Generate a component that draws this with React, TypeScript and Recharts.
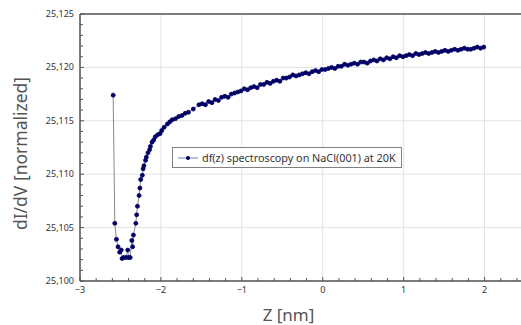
import { CartesianGrid, Line, LineChart, ReferenceLine, XAxis, YAxis } from "recharts";

// distance z [nm] and normalized dI/dV
const zNm = [
  -2.59, -2.57, -2.55, -2.53, -2.51, -2.49, -2.48, -2.46, -2.43, -2.41, -2.4, -2.38, -2.36, -2.35, -2.34,
  -2.31, -2.3, -2.29, -2.27, -2.26, -2.25, -2.23, -2.22, -2.21, -2.19, -2.18, -2.16, -2.14, -2.13, -2.11,
  -2.09, -2.07, -2.04, -2.01, -1.99, -1.96, -1.92, -1.89, -1.86, -1.82, -1.78, -1.74, -1.7, -1.66, -1.6,
  -1.53, -1.49, -1.45, -1.41, -1.37, -1.33, -1.29, -1.25, -1.21, -1.17, -1.13, -1.09, -1.05, -1.01, -0.97,
  -0.93, -0.89, -0.85, -0.81, -0.77, -0.73, -0.69, -0.65, -0.61, -0.57, -0.53, -0.49, -0.45, -0.41, -0.37,
  -0.33, -0.29, -0.25, -0.21, -0.17, -0.13, -0.09, -0.05, -0.01, 0.03, 0.07, 0.11, 0.15, 0.19, 0.23, 0.27,
  0.31, 0.35, 0.39, 0.43, 0.47, 0.51, 0.55, 0.59, 0.63, 0.67, 0.71, 0.75, 0.79, 0.83, 0.87, 0.91, 0.95,
  0.99, 1.03, 1.07, 1.11, 1.15, 1.19, 1.23, 1.27, 1.31, 1.35, 1.39, 1.43, 1.47, 1.51, 1.55, 1.59, 1.63,
  1.67, 1.71, 1.75, 1.79, 1.83, 1.87, 1.91, 1.95, 1.99,
];

const dIdV = [
  25.1174, 25.1054, 25.1039, 25.1032, 25.1027, 25.1029, 25.1021, 25.1022, 25.1022, 25.1029, 25.1022,
  25.1022, 25.1038, 25.1032, 25.1043, 25.1054, 25.1062, 25.107, 25.108, 25.1087, 25.1095, 25.1099,
  25.1105, 25.1108, 25.1113, 25.1116, 25.112, 25.1123, 25.1126, 25.113, 25.1132, 25.1135, 25.1137,
  25.1138, 25.1141, 25.1144, 25.1147, 25.1149, 25.1151, 25.1152, 25.1154, 25.1155, 25.1157, 25.1158,
  25.1161, 25.1165, 25.1166, 25.1165, 25.1168, 25.1167, 25.117, 25.1169, 25.1172, 25.1173, 25.1172,
  25.1175, 25.1176, 25.1177, 25.1178, 25.118, 25.1179, 25.1181, 25.1182, 25.1181, 25.1184, 25.1184,
  25.1186, 25.1185, 25.1187, 25.1188, 25.1187, 25.119, 25.119, 25.1191, 25.1193, 25.1192, 25.1193,
  25.1194, 25.1195, 25.1194, 25.1196, 25.1197, 25.1196, 25.1198, 25.1198, 25.1199, 25.12, 25.1199,
  25.1201, 25.1201, 25.1203, 25.1202, 25.1203, 25.1204, 25.1203, 25.1205, 25.1205, 25.1204, 25.1206,
  25.1207, 25.1206, 25.1208, 25.1207, 25.1209, 25.1208, 25.121, 25.1209, 25.1211, 25.121, 25.1211,
  25.1212, 25.1211, 25.1213, 25.1212, 25.1213, 25.1214, 25.1213, 25.1214, 25.1215, 25.1214, 25.1215,
  25.1216, 25.1215, 25.1216, 25.1217, 25.1216, 25.1217, 25.1218, 25.1217, 25.1217, 25.1218, 25.1219,
  25.1218, 25.1219,
];

const xMajorTicks = [-3, -2, -1, 0, 1, 2];
const xAllTicks = [
  -3, -2.8, -2.6, -2.4, -2.2, -2, -1.8, -1.6, -1.4, -1.2, -1, -0.8, -0.6, -0.4, -0.2, 0, 0.2, 0.4, 0.6,
  0.8, 1, 1.2, 1.4, 1.6, 1.8, 2, 2.2, 2.4,
];
const yMajorTicks = [25.1, 25.105, 25.11, 25.115, 25.12, 25.125];
const yAllTicks = [
  25.1, 25.101, 25.102, 25.103, 25.104, 25.105, 25.106, 25.107, 25.108, 25.109, 25.11, 25.111, 25.112,
  25.113, 25.114, 25.115, 25.116, 25.117, 25.118, 25.119, 25.12, 25.121, 25.122, 25.123, 25.124, 25.125,
];

const seriesName = "df(z) spectroscopy on NaCl(001) at 20K";

const data = zNm.map((z, i) => ({ z, v: dIdV[i] }));

const font = "'Segoe UI', 'Noto Sans', 'DejaVu Sans', sans-serif";
const axisColor = "#555";
const dotColor = "#000066";

function LegendBox() {
  return (
    <div
      style={{
        position: "absolute",
        left: 172,
        top: 147,
        display: "flex",
        alignItems: "center",
        border: "1px solid #808080",
        background: "#fff",
        height: 19,
        padding: "0 5px 0 4px",
        fontFamily: font,
        fontSize: 10.8,
        color: "#333",
        whiteSpace: "nowrap",
      }}
    >
      <svg width={22} height={10} style={{ marginRight: 3 }}>
        <line x1={1} y1={5} x2={21} y2={5} stroke="#7a7fa8" strokeWidth={1} />
        <circle cx={11} cy={5} r={2} fill={dotColor} />
      </svg>
      {seriesName}
    </div>
  );
}

const isMajor = (list: number[], v: number) => list.some((m) => Math.abs(m - v) < 1e-9);
const fmtX = (v: number) => (v < 0 ? "\u2212" + Math.abs(v) : String(v));
const fmtY = (v: number) => v.toFixed(3).replace(".", ",");

// inward tick mark plus label (labels only on major ticks)
function XTick(p: any) {
  const v = p.payload.value;
  const major = isMajor(xMajorTicks, v);
  return (
    <g>
      <line x1={p.x} x2={p.x} y1={p.y} y2={p.y - (major ? 4 : 3)} stroke={axisColor} strokeWidth={1} />
      {major && (
        <text x={p.x} y={p.y + 12} textAnchor="middle" fontSize={9} fill="#333" fontFamily={font}>
          {fmtX(v)}
        </text>
      )}
    </g>
  );
}

function YTick(p: any) {
  const v = p.payload.value;
  const major = isMajor(yMajorTicks, v);
  return (
    <g>
      <line x1={p.x} x2={p.x + (major ? 4 : 3)} y1={p.y} y2={p.y} stroke={axisColor} strokeWidth={1} />
      {major && (
        <text x={p.x - 6} y={p.y + 3} textAnchor="end" fontSize={9} fill="#333" fontFamily={font}>
          {fmtY(v)}
        </text>
      )}
    </g>
  );
}

export default function App() {
  return (
    <div style={{ position: "absolute", left: 0, top: 0, width: 521, height: 325, background: "#fff" }}>
      <LineChart
        width={521}
        height={325}
        data={data}
        margin={{ top: 14, right: 0, bottom: 0, left: 0 }}
      >
        <CartesianGrid stroke="#e2e2e2" strokeWidth={1} horizontalValues={yMajorTicks} verticalValues={xMajorTicks} />
        <XAxis
          dataKey="z"
          type="number"
          domain={[-3, 2.45]}
          allowDataOverflow
          ticks={xAllTicks}
          interval={0}
          height={44}
          stroke={axisColor}
          strokeWidth={1.5}
          tickLine={false}
          tickSize={0}
          tickMargin={0}
          tick={<XTick />}
          label={{ value: "Z [nm]", position: "insideBottom", offset: 4, dx: -12, fontSize: 17, fill: "#555", fontFamily: font }}
        />
        <YAxis
          type="number"
          domain={[25.1, 25.125]}
          allowDataOverflow
          ticks={yAllTicks}
          interval={0}
          width={80}
          stroke={axisColor}
          strokeWidth={1.5}
          tickLine={false}
          tickSize={0}
          tickMargin={0}
          tick={<YTick />}
          label={{
            value: "dI/dV [normalized]",
            angle: -90,
            position: "insideLeft",
            dx: 16,
            dy: 6,
            style: { textAnchor: "middle" },
            fontSize: 17.5,
            fill: "#555",
            fontFamily: font,
          }}
        />
        <ReferenceLine y={25.125} stroke={axisColor} strokeWidth={1.5} />
        <Line
          dataKey="v"
          name={seriesName}
          type="linear"
          stroke="#8a8a8a"
          strokeWidth={1}
          dot={{ r: 2, fill: dotColor, stroke: dotColor, strokeWidth: 0.8 }}
          isAnimationActive={false}
        />
      </LineChart>
      <LegendBox />
    </div>
  );
}
